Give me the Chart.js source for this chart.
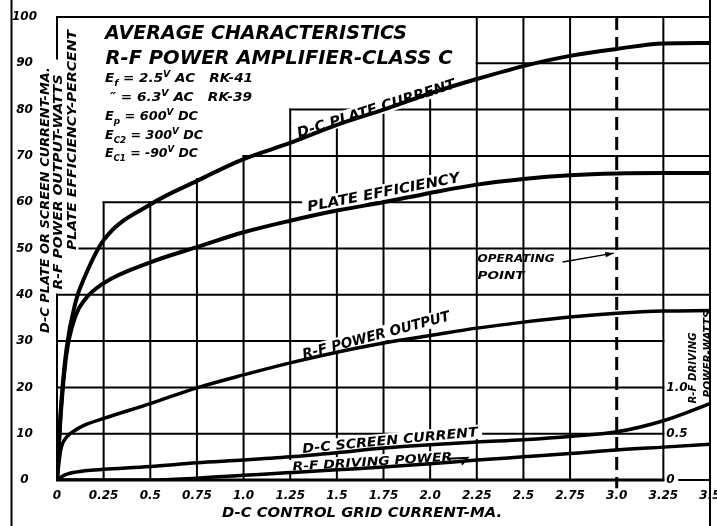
<!DOCTYPE html>
<html>
<head>
<meta charset="utf-8">
<title>Average Characteristics - R-F Power Amplifier Class C</title>
<script src="https://cdn.jsdelivr.net/npm/chart.js@4.4.1/dist/chart.umd.min.js"></script>
<style>
    html, body { margin: 0; padding: 0; background: #fff; }
</style>
</head>
<body>
<canvas id="myChart" width="717" height="526"></canvas>
<script>
const gridCurrent = [0, 0.02, 0.05, 0.1, 0.15, 0.25, 0.5, 0.75, 1.0, 1.25, 1.5, 1.75, 2.0, 2.25, 2.5, 2.75, 3.0, 3.25, 3.5];
const plateCurrent = [0, 15, 28, 38.5, 44, 51.8, 59.5, 64.6, 69.3, 72.8, 76.7, 80, 83.5, 86.6, 89.4, 91.6, 93.1, 94.3, 94.4];
const plateEfficiency = [0, 14, 27, 35.5, 39, 42.5, 47, 50.3, 53.5, 56, 58.2, 60, 62, 63.8, 65, 65.8, 66.2, 66.3, 66.3];
const powerOutput = [0, 6.5, 9.2, 10.8, 11.9, 13.3, 16.5, 19.9, 22.7, 25.3, 27.6, 29.6, 31.2, 32.8, 34.1, 35.2, 36.0, 36.5, 36.6];
const screenCurrent = [0, 0.6, 1.2, 1.7, 2.0, 2.3, 2.9, 3.7, 4.3, 5.0, 5.9, 6.9, 7.6, 8.2, 8.7, 9.4, 10.4, 12.8, 16.5];
// r-f driving power in watts (right hand scale)
const drivingPower = [0, 0, 0, 0, 0, 0, 0, 0.02, 0.05, 0.08, 0.11, 0.14, 0.175, 0.215, 0.25, 0.285, 0.325, 0.355, 0.385];

const xTickLabels = ["0", "0.25", "0.5", "0.75", "1.0", "1.25", "1.5", "1.75", "2.0", "2.25", "2.5", "2.75", "3.0", "3.25", "3.5"];
const drivingTicks = ["0", "0.5", "1.0"];
const operatingPoint = 3.0;

// stepped grid of the original sheet
const gridXs = [0, 0.25, 0.5, 0.75, 1.0, 1.25, 1.5, 1.75, 2.0, 2.25, 2.5, 2.75, 3.0, 3.25, 3.5];
const gridXTop = [40, 60, 60, 65, 70, 80, 77, 80, 84, 100, 100, 100, 100, 100, 100];
const gridYs = [0, 10, 20, 30, 40, 50, 60, 70, 80, 90, 100];
const gridYFrom = [0, 0, 0, 0, 0, 0.12, 0.25, 1.0, 1.25, 2.25, 0];
const gridYTo = [3.25, 3.25, 3.25, 3.25, 3.5, 3.5, 3.5, 3.5, 3.5, 3.5, 3.5];

const FONT = '"DejaVu Sans", "Liberation Sans", sans-serif';

function toPoints(values) {
    return gridCurrent.map((x, i) => ({ x: x, y: values[i] }));
}

function line(ctx, x1, y1, x2, y2) {
    ctx.beginPath();
    ctx.moveTo(x1, y1);
    ctx.lineTo(x2, y2);
    ctx.stroke();
}

// text squeezed/stretched to a given width, optionally rotated and on white
function fitText(ctx, text, cx, cy, angle, size, width, knockout) {
    ctx.save();
    ctx.translate(cx, cy);
    ctx.rotate(angle * Math.PI / 180);
    ctx.font = 'italic bold ' + size + 'px ' + FONT;
    let w = ctx.measureText(text).width;
    ctx.scale(width / w, 1);
    if (knockout) {
        ctx.fillStyle = '#fff';
        ctx.fillRect(-w / 2 - 4, -size * 0.55, w + 8, size * 1.1);
    }
    ctx.fillStyle = '#000';
    ctx.textAlign = 'center';
    ctx.textBaseline = 'middle';
    ctx.fillText(text, 0, 1);
    ctx.restore();
}

// text with subscripts / superscripts, left aligned
function richText(ctx, parts, left, cy, size, width) {
    ctx.save();
    let fontFor = k => 'italic bold ' + (k === 'n' ? size : Math.round(size * 0.68)) + 'px ' + FONT;
    let total = 0;
    parts.forEach(p => { ctx.font = fontFor(p[1]); total += ctx.measureText(p[0]).width; });
    ctx.translate(left, cy);
    ctx.scale(width / total, 1);
    ctx.fillStyle = '#000';
    ctx.textAlign = 'left';
    ctx.textBaseline = 'middle';
    let x = 0;
    parts.forEach(p => {
        ctx.font = fontFor(p[1]);
        let dy = p[1] === 'sub' ? size * 0.35 : (p[1] === 'sup' ? -size * 0.3 : 0);
        ctx.fillText(p[0], x, dy + 1);
        x += ctx.measureText(p[0]).width;
    });
    ctx.restore();
}

const sheetDecor = {
    id: 'sheetDecor',
    beforeDatasetsDraw(chart) {
        const ctx = chart.ctx;
        const xs = chart.scales.x;
        const ys = chart.scales.y;
        const y2 = chart.scales.y2;
        const px = v => xs.getPixelForValue(v);
        const py = v => ys.getPixelForValue(v);

        ctx.save();
        ctx.strokeStyle = '#000';
        ctx.lineCap = 'butt';

        // grid
        ctx.lineWidth = 2;
        gridXs.forEach((gx, i) => {
            if (gx === operatingPoint) return;
            line(ctx, px(gx), py(0) + 1, px(gx), py(gridXTop[i]) - 1);
        });
        gridYs.forEach((gy, i) => {
            ctx.lineWidth = gy === 0 ? 3 : 2;
            line(ctx, px(gridYFrom[i]) - 1, py(gy), px(gridYTo[i]) + 1, py(gy));
        });

        // frame pieces
        ctx.lineWidth = 2;
        line(ctx, px(3.5), 0, px(3.5), chart.height);
        line(ctx, 11.5, 0, 11.5, chart.height);
        line(ctx, px(0), py(100), px(0), py(90.8));
        line(ctx, px(3.33), py(0), px(3.5), py(0));

        // operating point
        ctx.lineWidth = 3;
        ctx.setLineDash([13, 7]);
        line(ctx, px(operatingPoint), py(100), px(operatingPoint), py(-1.8));
        ctx.setLineDash([]);

        // title block
        fitText(ctx, 'AVERAGE CHARACTERISTICS', 256, 33, 0, 20, 302, false);
        fitText(ctx, 'R-F POWER AMPLIFIER-CLASS C', 279, 58, 0, 20, 347, false);
        richText(ctx, [['E', 'n'], ['f', 'sub'], [' = 2.5', 'n'], ['V', 'sup'], [' AC   RK-41', 'n']], 105, 78, 13, 148);
        richText(ctx, [['\u2033 = 6.3', 'n'], ['V', 'sup'], [' AC   RK-39', 'n']], 110, 97, 13, 142);
        richText(ctx, [['E', 'n'], ['p', 'sub'], [' = 600', 'n'], ['V', 'sup'], [' DC', 'n']], 105, 116, 13, 93);
        richText(ctx, [['E', 'n'], ['C2', 'sub'], [' = 300', 'n'], ['V', 'sup'], [' DC', 'n']], 105, 135, 13, 98);
        richText(ctx, [['E', 'n'], ['C1', 'sub'], [' = -90', 'n'], ['V', 'sup'], [' DC', 'n']], 105, 153, 13, 93);

        // left axis title, three lines
        fitText(ctx, 'D-C PLATE OR SCREEN CURRENT-MA.', 45, 200, -90, 13, 266, false);
        fitText(ctx, 'R-F POWER OUTPUT-WATTS', 58, 182, -90, 13, 215, false);
        fitText(ctx, 'PLATE EFFICIENCY-PERCENT', 72, 140, -90, 13, 220, false);

        // curve labels
        fitText(ctx, 'D-C PLATE CURRENT', px(1.71), py(80.3), -17.5, 14, 165, true);
        fitText(ctx, 'PLATE EFFICIENCY', px(1.75), py(62.2), -11, 14, 155, true);
        fitText(ctx, 'R-F POWER OUTPUT', px(1.71), py(31.3), -14.8, 14, 152, true);
        fitText(ctx, 'D-C SCREEN CURRENT', px(1.785), py(8.6), -5.5, 13, 176, true);
        fitText(ctx, 'R-F DRIVING POWER', px(1.69), py(4.0), -3.6, 12, 160, true);
        ctx.lineWidth = 2;
        ctx.beginPath();
        ctx.moveTo(px(2.09), py(4.6));
        ctx.lineTo(px(2.2), py(4.8));
        ctx.lineTo(px(2.17), py(3.3));
        ctx.stroke();

        // operating point note
        fitText(ctx, 'OPERATING', 516, 258, 0, 11, 77, false);
        fitText(ctx, 'POINT', 501, 275, 0, 11, 47, false);
        ctx.lineWidth = 1.5;
        let ax1 = px(2.71), ay1 = py(47.1), ax2 = px(2.985), ay2 = py(49.0);
        line(ctx, ax1, ay1, ax2, ay2);
        let ang = Math.atan2(ay2 - ay1, ax2 - ax1);
        ctx.beginPath();
        ctx.moveTo(ax2, ay2);
        ctx.lineTo(ax2 - 9 * Math.cos(ang - 0.3), ay2 - 9 * Math.sin(ang - 0.3));
        ctx.lineTo(ax2 - 9 * Math.cos(ang + 0.3), ay2 - 9 * Math.sin(ang + 0.3));
        ctx.closePath();
        ctx.fillStyle = '#000';
        ctx.fill();

        // right hand driving power scale
        ctx.font = 'italic bold 12px ' + FONT;
        ctx.textAlign = 'left';
        ctx.textBaseline = 'middle';
        drivingTicks.forEach(t => {
            ctx.fillText(t, px(3.25) + 3, y2.getPixelForValue(parseFloat(t)));
        });
        fitText(ctx, 'R-F DRIVING', 692, 368, -90, 11, 71, false);
        fitText(ctx, 'POWER-WATTS', 707, 354, -90, 11, 87, false);

        // x axis title
        fitText(ctx, 'D-C CONTROL GRID CURRENT-MA.', 362, 512, 0, 14, 280, false);

        ctx.restore();
    }
};

const tickFont = { family: FONT, size: 12, style: 'italic', weight: 'bold' };

let ctx = document.getElementById('myChart').getContext('2d');
let chartOne = new Chart(ctx, {
    type: 'line',
    data: {
        datasets: [
            { label: 'D-C Plate Current', data: toPoints(plateCurrent), yAxisID: 'y', borderWidth: 4 },
            { label: 'Plate Efficiency', data: toPoints(plateEfficiency), yAxisID: 'y', borderWidth: 4 },
            { label: 'R-F Power Output', data: toPoints(powerOutput), yAxisID: 'y', borderWidth: 3.5 },
            { label: 'D-C Screen Current', data: toPoints(screenCurrent), yAxisID: 'y', borderWidth: 3.5 },
            { label: 'R-F Driving Power', data: toPoints(drivingPower), yAxisID: 'y2', borderWidth: 3.5 }
        ]
    },
    options: {
        responsive: false,
        animation: false,
        devicePixelRatio: 1,
        layout: {
            autoPadding: false,
            padding: { top: 17, right: 7, left: 0, bottom: 0 }
        },
        plugins: {
            legend: { display: false },
            tooltip: { enabled: false }
        },
        elements: {
            point: { radius: 0 },
            line: {
                borderColor: '#000',
                fill: false,
                cubicInterpolationMode: 'monotone',
                borderCapStyle: 'round',
                borderJoinStyle: 'round'
            }
        },
        scales: {
            x: {
                type: 'linear',
                min: 0,
                max: 3.5,
                afterFit: s => {
                    s.height = 46;
                    s.paddingLeft = 0;
                    s.paddingRight = 0;
                },
                grid: { display: false, drawTicks: false },
                border: { display: false },
                ticks: {
                    stepSize: 0.25,
                    autoSkip: false,
                    maxRotation: 0,
                    minRotation: 0,
                    padding: 9,
                    color: '#000',
                    font: tickFont,
                    callback: (v, i) => xTickLabels[i]
                }
            },
            y: {
                min: 0,
                max: 100,
                afterFit: s => {
                    s.width = 57;
                    s.paddingTop = 0;
                    s.paddingBottom = 0;
                },
                grid: { display: false, drawTicks: false },
                border: { display: false },
                ticks: {
                    stepSize: 10,
                    crossAlign: 'center',
                    padding: 20,
                    color: '#000',
                    font: tickFont
                }
            },
            y2: {
                display: false,
                min: 0,
                max: 5
            }
        }
    },
    plugins: [sheetDecor]
});
</script>
</body>
</html>
